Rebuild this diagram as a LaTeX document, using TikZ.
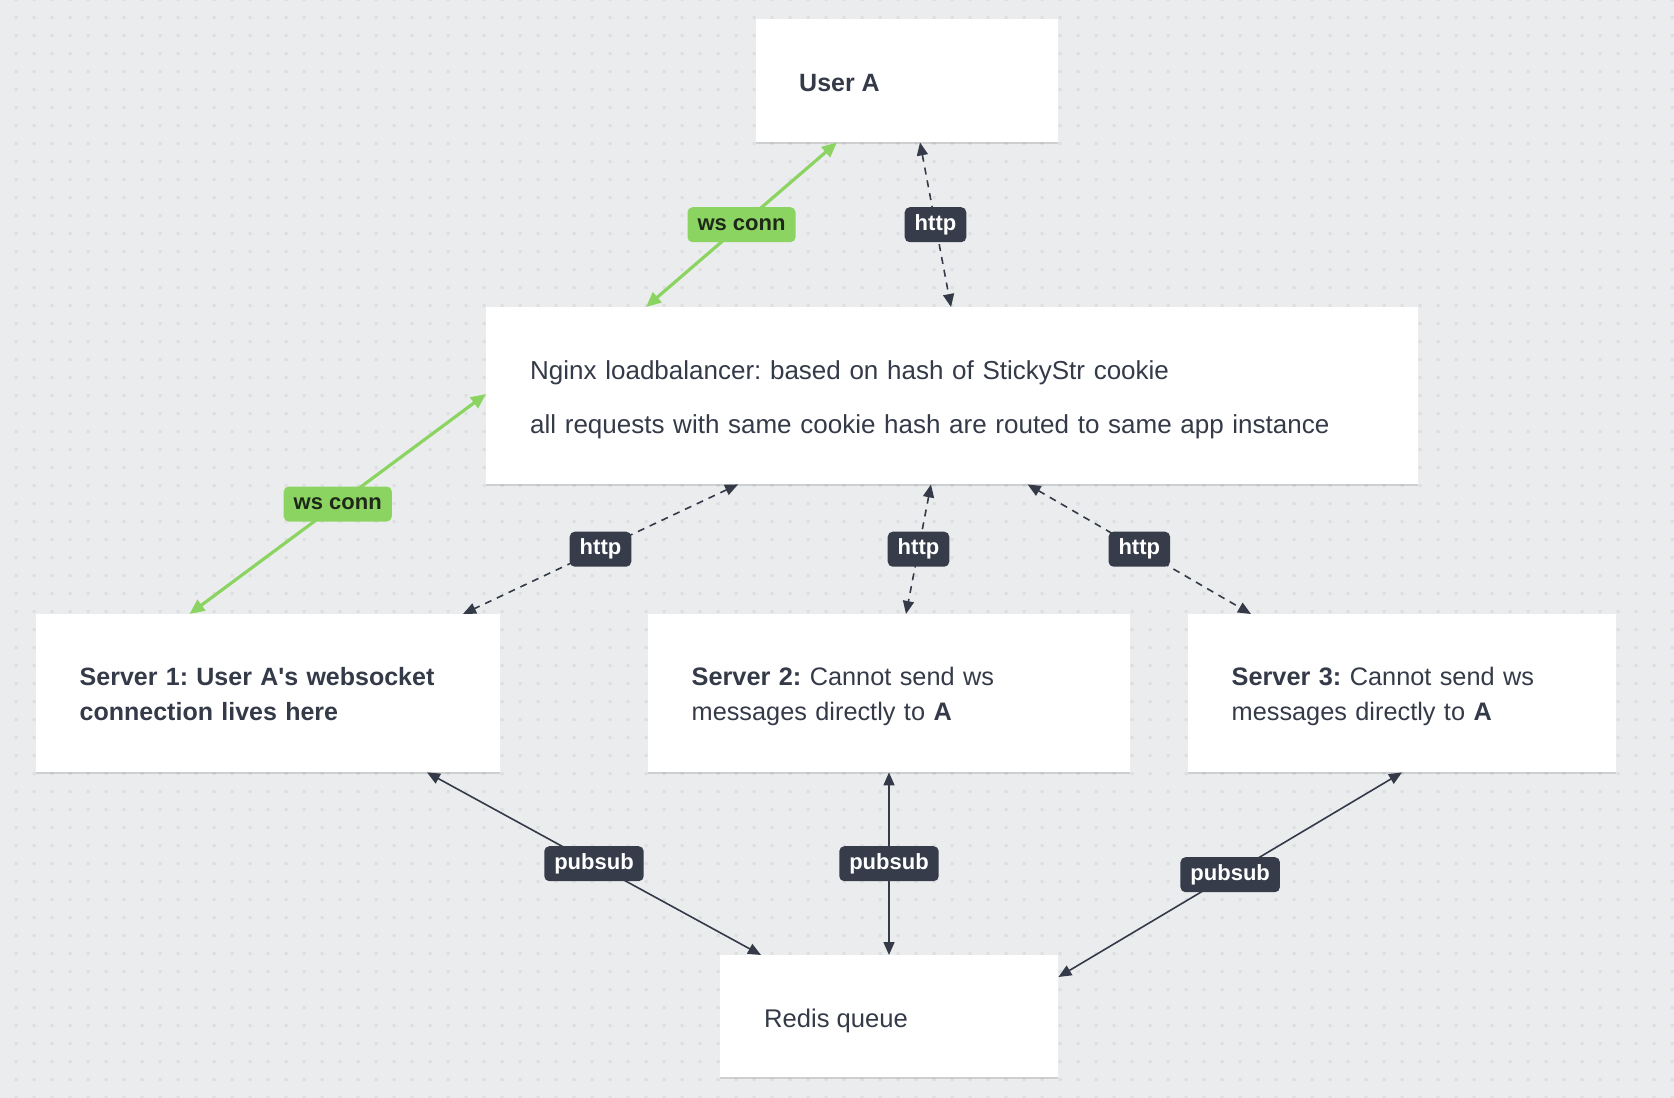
\documentclass[tikz,border=0pt]{standalone}
\usepackage{fontspec}
\setmainfont{Liberation Sans}
\usetikzlibrary{arrows.meta,shadows}
\definecolor{bg}{RGB}{235,236,238}
\definecolor{dotc}{RGB}{220,222,226}
\definecolor{ink}{RGB}{52,58,72}
\definecolor{lblbg}{RGB}{54,60,74}
\definecolor{wsgreen}{RGB}{140,212,98}
\definecolor{wsink}{RGB}{30,40,24}
\frenchspacing
\begin{document}
\begin{tikzpicture}[x=1pt,y=-1pt,
  box/.style={fill=white, inner sep=0pt, anchor=north west,
    drop shadow={shadow xshift=0pt, shadow yshift=-2pt, opacity=0.12, fill=black}},
  bodytext/.style={anchor=base west, inner sep=0pt, text=ink, align=left},
  wsline/.style={draw=wsgreen, line width=3.2pt,
    {Triangle[length=15pt,width=13pt]}-{Triangle[length=15pt,width=13pt]}},
  httpline/.style={draw=ink, line width=1.6pt, dash pattern=on 7pt off 6pt,
    {Triangle[length=13pt,width=11pt]}-{Triangle[length=13pt,width=11pt]}},
  psline/.style={draw=ink, line width=1.6pt,
    {Triangle[length=13pt,width=11pt]}-{Triangle[length=13pt,width=11pt]}},
  lbl/.style={fill=lblbg, text=white, font=\bfseries\fontsize{22}{22}\selectfont,
    rounded corners=5pt, inner xsep=10pt, inner ysep=0pt, minimum height=35pt},
  wslbl/.style={lbl, fill=wsgreen, text=wsink}
]
\useasboundingbox (0,0) rectangle (1674,1098);
\fill[bg] (0,0) rectangle (1674,1098);
\fill[dotc] \foreach \i in {0,...,92} {\foreach \j in {0,...,61} {(14.5+18*\i,-1.8+18*\j) rectangle ++(3,3)}};

% boxes
\node[box, minimum width=302pt, minimum height=123pt] (userA) at (756,19) {};
\node[box, minimum width=932pt, minimum height=177pt] (nginx) at (486,307) {};
\node[box, minimum width=464pt, minimum height=158pt] (s1) at (36,614) {};
\node[box, minimum width=482pt, minimum height=158pt] (s2) at (648,614) {};
\node[box, minimum width=428pt, minimum height=158pt] (s3) at (1188,614) {};
\node[box, minimum width=338pt, minimum height=122pt] (redis) at (720,955) {};

% texts
\node[bodytext, font=\bfseries\fontsize{25}{30}\selectfont] (userAT) at (799,91.7) {User A};
\node[bodytext, text width=880pt, font=\fontsize{26}{54.5}\selectfont] (nginxT) at (530,379)
  {Nginx loadbalancer: based on hash of StickyStr cookie\\all requests with same cookie hash are routed to same app instance};
\node[bodytext, text width=420pt, font=\fontsize{25}{35.6}\selectfont] (s1T) at (79.5,685)
  {\textbf{Server 1: User A\textquotesingle s websocket}\\\textbf{connection lives here}};
\node[bodytext, text width=420pt, font=\fontsize{25.3}{35.6}\selectfont] (s2T) at (691.5,685)
  {\textbf{Server 2:} Cannot send ws\\messages directly to \textbf{A}};
\node[bodytext, text width=380pt, font=\fontsize{25.3}{35.6}\selectfont] (s3T) at (1231.5,685)
  {\textbf{Server 3:} Cannot send ws\\messages directly to \textbf{A}};
\node[bodytext, font=\fontsize{25.6}{30}\selectfont] (redisT) at (764,1027) {Redis queue};

% connectors
\draw[wsline] ([xshift=160pt]nginx.north west) -- ([xshift=81pt]userA.south west)
  node[wslbl, midway] (l1) {ws conn};
\draw[httpline] ([xshift=164pt]userA.south west) -- ([xshift=465pt]nginx.north west)
  node[lbl, midway] (l2) {http};
\draw[wsline] ([yshift=-87pt]nginx.north west) -- ([xshift=153.5pt]s1.north west)
  node[wslbl, midway] (l3) {ws conn};
\draw[httpline] ([xshift=252pt]nginx.south west) -- ([xshift=427pt]s1.north west)
  node[lbl, midway] (l4) {http};
\draw[httpline] ([xshift=445pt]nginx.south west) -- ([xshift=258pt]s2.north west)
  node[lbl, midway] (l5) {http};
\draw[httpline] ([xshift=541.6pt]nginx.south west) -- ([xshift=63pt]s3.north west)
  node[lbl, midway] (l6) {http};
\draw[psline] ([xshift=391pt]s1.south west) -- ([xshift=41pt]redis.north west)
  node[lbl, midway] (l7) {pubsub};
\draw[psline] ([xshift=241pt]s2.south west) -- ([xshift=169pt]redis.north west)
  node[lbl, midway] (l8) {pubsub};
\draw[psline] ([xshift=214pt]s3.south west) -- ([yshift=-22pt]redis.north east)
  node[lbl, midway] (l9) {pubsub};
\end{tikzpicture}
\end{document}
